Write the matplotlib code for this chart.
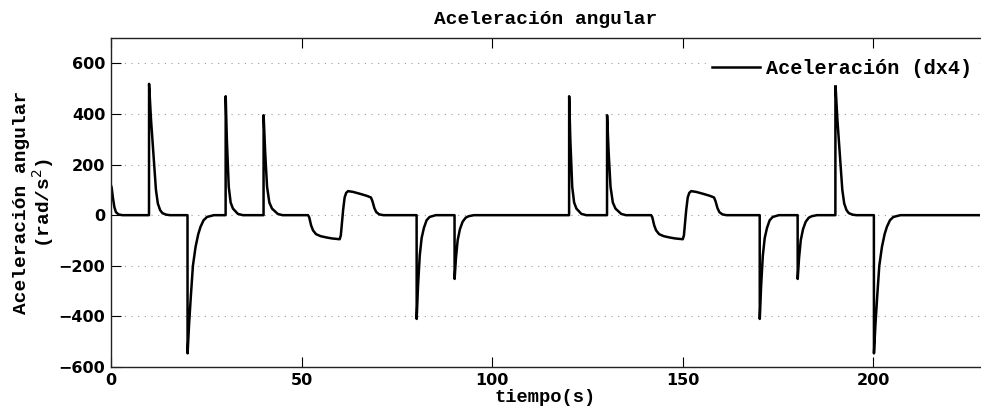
import matplotlib
matplotlib.use("Agg")
import matplotlib.pyplot as plt

#tiempo (s) y aceleracion angular (rad/s^2)
tiempo = [0, 0.2, 0.5, 0.9, 1.3, 2.0, 3.0,
          9.98, 10.0, 10.5, 11.3, 11.8, 12.3, 12.9, 13.5, 14.5, 15.5,
          20.08, 20.1, 20.5, 20.95, 21.5, 22.2, 22.9, 23.5, 24.3, 25.2, 27.0,
          30.08, 30.1, 30.4, 30.9, 31.4, 32.0, 33.3, 34.6,
          40.03, 40.05, 40.45, 40.95, 41.55, 42.25, 43.75, 45.0,
          51.7, 52.0, 52.5, 53.0, 53.8, 55.0, 56.5, 58.0, 60.0, 60.3, 60.6,
          60.9, 61.3, 61.7, 62.2, 63.5, 65.2, 67.0, 68.2, 68.6, 69.1, 69.6,
          70.4, 71.5,
          80.18, 80.2, 80.55, 81.0, 81.5, 82.1, 82.8, 83.6, 85.2,
          90.13, 90.15, 90.5, 90.95, 91.55, 92.25, 93.05, 93.85, 95.2,
          120.18, 120.2, 120.5, 121.0, 121.5, 122.1, 123.4, 124.7,
          130.13, 130.15, 130.55, 131.05, 131.65, 132.35, 133.85, 135.1,
          141.7, 142.0, 142.5, 143.0, 143.8, 145.0, 146.5, 148.0, 150.0, 150.3,
          150.6, 150.9, 151.3, 151.7, 152.2, 153.5, 155.2, 157.0, 158.2, 158.6,
          159.1, 159.6, 160.4, 161.5,
          170.18, 170.2, 170.55, 171.0, 171.5, 172.1, 172.8, 173.6, 175.2,
          180.13, 180.15, 180.5, 180.95, 181.55, 182.25, 183.05, 183.85, 185.2,
          190.03, 190.05, 190.55, 191.35, 191.85, 192.35, 192.95, 193.55,
          194.55, 195.55,
          200.13, 200.15, 200.55, 201.0, 201.55, 202.25, 202.95, 203.55,
          204.35, 205.25, 207.1,
          228.0]

acel = [118, 108, 70, 32, 12, 3, 0,
        0, 519, 380, 204, 100, 46, 20, 8, 2, 0,
        0, -546, -430, -322, -200, -125, -75, -46, -20, -7, 0,
        0, 470, 300, 112, 50, 26, 5, 0,
        0, 395, 250, 112, 50, 26, 5, 0,
        0, -8, -40, -60, -75, -83, -88, -92, -95, -80, -30,
        20, 70, 88, 95, 92, 85, 77, 70, 55, 28, 12,
        3, 0,
        0, -410, -280, -160, -90, -50, -20, -7, 0,
        0, -252, -170, -99, -55, -26, -10, -4, 0,
        0, 470, 300, 112, 50, 26, 5, 0,
        0, 395, 250, 112, 50, 26, 5, 0,
        0, -8, -40, -60, -75, -83, -88, -92, -95, -80,
        -30, 20, 70, 88, 95, 92, 85, 77, 70, 55,
        28, 12, 3, 0,
        0, -410, -280, -160, -90, -50, -20, -7, 0,
        0, -252, -170, -99, -55, -26, -10, -4, 0,
        0, 519, 380, 204, 100, 46, 20, 8,
        2, 0,
        0, -546, -430, -322, -200, -125, -75, -46,
        -20, -7, 0,
        0]

yticks = [-600, -400, -200, 0, 200, 400, 600]
xticks = [0, 50, 100, 150, 200]

mono = "Liberation Mono"

fig = plt.figure(figsize=(9.81, 4.12), dpi=100)
ax = fig.add_axes([0.1131, 0.1092, 0.886, 0.7985])

ax.plot(tiempo, acel, color="black", linewidth=1.8, label="Aceleración (dx4)")

ax.set_xlim(0, 228)
ax.set_ylim(-600, 700)
ax.set_xticks(xticks)
ax.set_yticks(yticks)

#grid punteado solo horizontal, estilo matlab
ax.yaxis.grid(True, linestyle=(0, (1, 5)), color="#999999", linewidth=0.8)
ax.tick_params(direction="in", top=True, right=False, length=7, width=0.8,
               labelsize=11.5, pad=4)
for lbl in ax.get_xticklabels() + ax.get_yticklabels():
    lbl.set_fontweight("bold")
ax.spines["right"].set_visible(False)
for s in ["left", "bottom", "top"]:
    ax.spines[s].set_linewidth(1.0)
    ax.spines[s].set_color("#222222")

ax.set_title("Aceleración angular", family=mono, fontweight="bold",
             fontsize=14, pad=10)
ax.set_xlabel("tiempo(s)", family=mono, fontweight="bold", fontsize=13.5,
              labelpad=1)
ax.set_ylabel("Aceleración angular\n(rad/s$^2$)", family=mono,
              fontweight="bold", fontsize=14, labelpad=2, linespacing=1.0)

#leyenda arriba a la derecha, sin borde
leg = ax.legend(loc="upper right", bbox_to_anchor=(1.0, 0.962),
                prop={"family": mono, "weight": "bold", "size": 14.5},
                frameon=True, fancybox=False, handlelength=2.4,
                handletextpad=0.3, borderaxespad=0.1, borderpad=0.3)
leg.get_frame().set_edgecolor("white")
leg.get_frame().set_alpha(1.0)

fig.savefig("out.png", dpi=100)
